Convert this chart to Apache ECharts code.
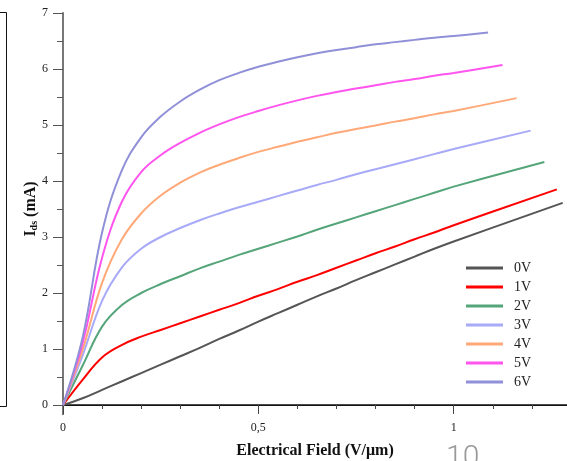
<!DOCTYPE html>
<html>
<head>
<meta charset="utf-8">
<script src="https://cdn.jsdelivr.net/npm/echarts@6/dist/echarts.min.js"></script>
<style>html,body{margin:0;padding:0;background:#fff}#c{width:567px;height:461px}</style>
</head>
<body>
<div id="c"></div>
<script>
var names = ['0V','1V','2V','3V','4V','5V','6V'];
var colors = ['#555555','#ff0000','#55a57a','#a8aaf8','#ffa878','#ff55ee','#9090d8'];
var xs = [0, 0.05, 0.1, 0.15, 0.2, 0.25, 0.3, 0.35, 0.4, 0.45, 0.5, 0.55, 0.6, 0.65, 0.7, 0.75, 0.8, 0.85, 0.9, 0.95, 1.0];
var v0 = [0, 0.12, 0.27, 0.42, 0.57, 0.72, 0.87, 1.02, 1.18, 1.33, 1.49, 1.64, 1.79, 1.94, 2.08, 2.23, 2.37, 2.51, 2.65, 2.79, 2.92];
var v1 = [0, 0.45, 0.85, 1.07, 1.22, 1.34, 1.46, 1.58, 1.70, 1.82, 1.95, 2.07, 2.20, 2.32, 2.45, 2.58, 2.71, 2.83, 2.96, 3.08, 3.21];
var v2 = [0, 0.70, 1.40, 1.78, 2.00, 2.16, 2.30, 2.44, 2.56, 2.68, 2.79, 2.90, 3.01, 3.13, 3.24, 3.35, 3.46, 3.57, 3.68, 3.79, 3.90];
var v3 = [0, 0.88, 1.86, 2.45, 2.79, 3.00, 3.16, 3.30, 3.42, 3.53, 3.63, 3.73, 3.83, 3.93, 4.02, 4.12, 4.21, 4.30, 4.39, 4.48, 4.57];
var v4 = [0, 0.98, 2.18, 2.95, 3.42, 3.74, 3.97, 4.15, 4.29, 4.41, 4.52, 4.61, 4.70, 4.78, 4.86, 4.93, 4.99, 5.06, 5.12, 5.19, 5.25];
var v5 = [0, 1.10, 2.63, 3.62, 4.16, 4.46, 4.68, 4.86, 5.01, 5.14, 5.25, 5.35, 5.44, 5.52, 5.59, 5.65, 5.71, 5.77, 5.82, 5.88, 5.93];
var v6 = [0, 1.20, 3.08, 4.18, 4.78, 5.15, 5.42, 5.63, 5.80, 5.93, 6.04, 6.13, 6.21, 6.28, 6.34, 6.39, 6.44, 6.48, 6.52, 6.56, 6.59];
var endX = [1.279, 1.264, 1.232, 1.197, 1.161, 1.125, 1.088];
var endY = [3.61, 3.85, 4.34, 4.90, 5.48, 6.07, 6.65];
var vals = [v0, v1, v2, v3, v4, v5, v6];
var xTicks = ['0', '0,5', '1'];

var serif = '"Liberation Serif","Times New Roman",serif';
var chart = echarts.init(document.getElementById('c'));
var series = names.map(function (n, i) {
  var d = xs.map(function (x, j) { return [x, vals[i][j]]; });
  d.push([endX[i], endY[i]]);
  return {
    name: n, type: 'line', data: d, smooth: 0.4, showSymbol: false, symbol: 'none',
    lineStyle: { color: colors[i], width: 2 }, itemStyle: { color: colors[i] }
  };
});
chart.setOption({
  animation: false,
  grid: { left: 63, right: 0, top: 13, bottom: 56, containLabel: false, outerBoundsMode: 'none' },
  legend: {
    orient: 'vertical', left: 466, top: 261, padding: 0, icon: 'rect', itemWidth: 37, itemHeight: 3,
    itemGap: 5, data: names,
    textStyle: { fontFamily: serif, fontSize: 14, color: '#222', padding: [0, 0, 0, 6] }
  },
  xAxis: [{
    type: 'value', min: 0, max: 1.29, interval: 0.5,
    name: 'Electrical Field (V/μm)', nameLocation: 'middle', nameGap: 38, nameMoveOverlap: false,
    nameTextStyle: { fontFamily: serif, fontSize: 16, fontWeight: 'bold', color: '#111' },
    axisLine: { show: true, onZero: false, lineStyle: { color: '#222', width: 1 } },
    axisTick: { show: true, length: 9, lineStyle: { color: '#444' } },
    minorTick: { show: true, splitNumber: 5, length: 4, lineStyle: { color: '#444' } },
    axisLabel: { fontFamily: serif, fontSize: 12, color: '#222', margin: 17, showMaxLabel: false,
      formatter: function (v) { var i = [0, 0.5, 1].indexOf(v); return i >= 0 ? xTicks[i] : ''; } },
    splitLine: { show: false }
  }, {
    type: 'value', position: 'top', min: 0, max: 1.29,
    axisLine: { show: true, lineStyle: { color: '#111', width: 1.5 } },
    axisTick: { show: false }, axisLabel: { show: false }, splitLine: { show: false }
  }],
  yAxis: {
    type: 'value', min: 0, max: 7, interval: 1,
    name: '{a|I}{b|ds}{a| (mA)}', nameLocation: 'middle', nameGap: 24, nameMoveOverlap: false,
    nameTextStyle: { rich: {
      a: { fontFamily: serif, fontSize: 16, fontWeight: 'bold', color: '#111' },
      b: { fontFamily: serif, fontSize: 10, fontWeight: 'bold', color: '#111', verticalAlign: 'bottom', padding: [7, 0, 0, 0] }
    } },
    axisLine: { show: true, lineStyle: { color: '#777', width: 2 } },
    axisTick: { show: true, length: 10, lineStyle: { color: '#555' } },
    minorTick: { show: true, splitNumber: 2, length: 6, lineStyle: { color: '#555' } },
    axisLabel: { fontFamily: serif, fontSize: 12, color: '#222', margin: 15 },
    splitLine: { show: false }
  },
  series: series,
  graphic: [
    { type: 'polyline', shape: { points: [[0, 12.5], [6.5, 12.5], [6.5, 406.5], [0, 406.5]] },
      style: { stroke: '#111', lineWidth: 1, fill: null } },
    { type: 'line', shape: { x1: 63, y1: 405, x2: 63, y2: 415 }, style: { stroke: '#777', lineWidth: 2 } },
    { type: 'text', left: 446, top: 443,
      style: { text: '10', fontFamily: 'Roboto, "Open Sans", sans-serif', fontWeight: 300, fontSize: 30, fill: '#999' } }
  ]
});
</script>
</body>
</html>
